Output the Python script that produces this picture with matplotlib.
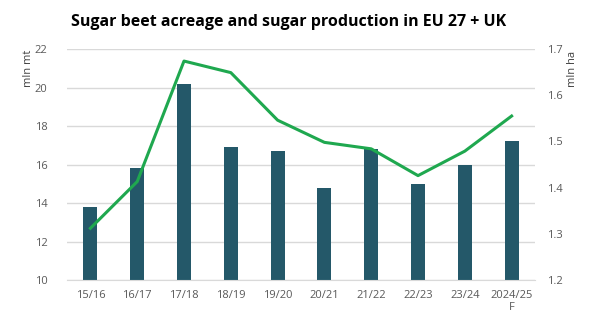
import matplotlib
matplotlib.use('Agg')
import matplotlib.pyplot as plt
import numpy as np

# Sugar production (mln mt) and beet acreage (mln ha), EU 27 + UK
seasons = ['15/16', '16/17', '17/18', '18/19', '19/20', '20/21',
           '21/22', '22/23', '23/24', '2024/25\nF']
production = [13.8, 15.8, 20.2, 16.9, 16.7, 14.8, 16.8, 15.0, 16.0, 17.2]
acreage = [1.312, 1.413, 1.674, 1.649, 1.546, 1.498, 1.484, 1.426, 1.479, 1.555]

plt.rcParams['font.family'] = ['Open Sans', 'DejaVu Sans']
tick_col = '#595959'

fig = plt.figure(figsize=(5.96, 3.27), dpi=100)
ax = fig.add_axes([0.1124, 0.1437, 0.7853, 0.7063])
x = np.arange(len(seasons))

ax.bar(x, production, width=0.3, color='#245869', zorder=2)
ax.set_ylim(10, 22)
ax.set_yticks(range(10, 23, 2))
ax.set_xlim(-0.5, len(seasons) - 0.5)
ax.set_xticks(x)
ax.set_xticklabels(seasons)
ax.grid(axis='y', color='#d9d9d9', linewidth=1, zorder=0)
ax.set_axisbelow(True)
for s in ['top', 'right', 'left']:
    ax.spines[s].set_visible(False)
ax.spines['bottom'].set_color('#d9d9d9')
ax.tick_params(length=0, labelsize=8, colors=tick_col, pad=7)
ax.tick_params(axis='y', pad=14)

ax2 = ax.twinx()
ax2.plot(x, acreage, color='#1fa84f', linewidth=2.2, zorder=3)
ax2.set_ylim(1.2, 1.7)
ax2.set_yticks(np.arange(1.2, 1.71, 0.1))
ax2.set_yticklabels([f'{v:.1f}' for v in np.arange(1.2, 1.71, 0.1)])
for s in ax2.spines.values():
    s.set_visible(False)
ax2.tick_params(length=0, labelsize=8, colors=tick_col, pad=9)

fig.text(0.047, 0.79, 'mln mt', rotation=90, ha='center', va='center',
         fontsize=8, color='#404040')
fig.text(0.960, 0.79, 'mln ha', rotation=90, ha='center', va='center',
         fontsize=8, color='#404040')
fig.text(0.485, 0.933, 'Sugar beet acreage and sugar production in EU 27 + UK',
         ha='center', va='center', fontsize=11.5, fontweight='bold', color='black')

fig.savefig('out.png', dpi=100)
